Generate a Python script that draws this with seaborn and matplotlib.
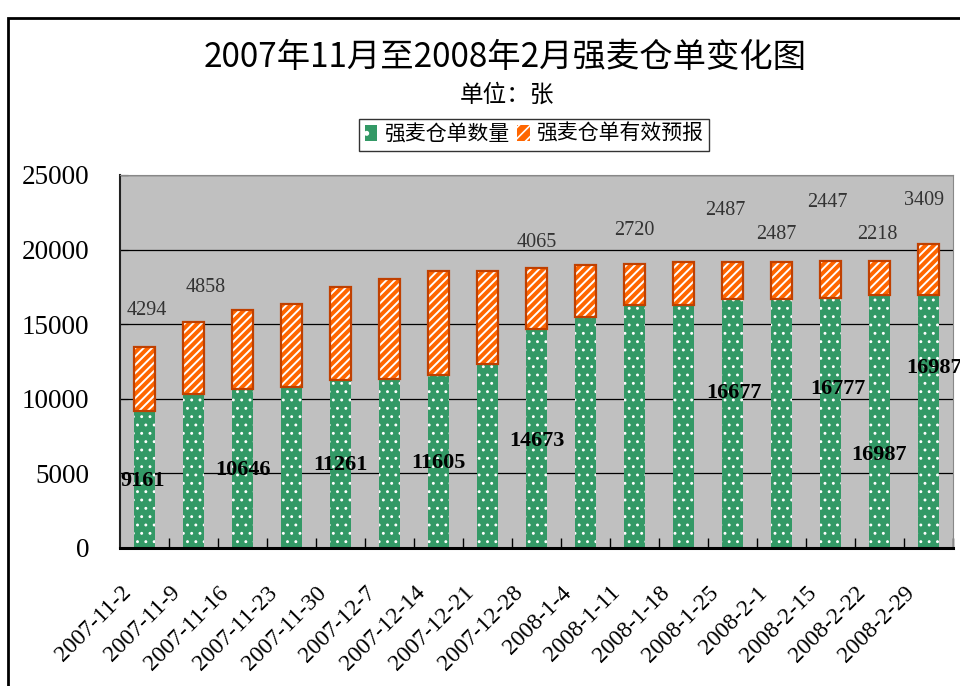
import numpy as np
import pandas as pd
import matplotlib.pyplot as plt
import matplotlib.patches as mpatches
from matplotlib.transforms import ScaledTranslation
import seaborn as sns

# data
dates = ['2007-11-2', '2007-11-9', '2007-11-16', '2007-11-23', '2007-11-30',
         '2007-12-7', '2007-12-14', '2007-12-21', '2007-12-28', '2008-1-4',
         '2008-1-11', '2008-1-18', '2008-1-25', '2008-2-1', '2008-2-15',
         '2008-2-22', '2008-2-29']
warrants = [9161, 10300, 10646, 10800, 11261, 11300, 11605, 12350, 14673,
            15500, 16300, 16300, 16677, 16677, 16777, 16987, 16987]
forecast = [4294, 4858, 5300, 5550, 6250, 6700, 6950, 6200, 4065,
            3500, 2720, 2900, 2487, 2487, 2447, 2218, 3409]

# data labels as Excel placed them (category index, value height)
top_labels = ['4294', '4858', '4065', '2720', '2487', '2487', '2447', '2218', '3409']
top_label_x = [0.05, 1.25, 8.0, 10.0, 11.85, 12.9, 13.93, 14.95, 15.9]
top_label_y = [15950, 17450, 20460, 21270, 22650, 21045, 23140, 21045, 23280]
bar_labels = ['9161', '10646', '11261', '11605', '14673', '16677', '16777', '16987', '16987']
bar_label_x = [-0.03, 2.02, 3.99, 5.99, 8.01, 12.02, 14.15, 15.0, 16.12]
bar_label_y = [4510, 5230, 5560, 5675, 7190, 10370, 10640, 6230, 12040]

title = '2007年11月至2008年2月强麦仓单变化图'
subtitle = '单位：张'
series_names = ['强麦仓单数量', '强麦仓单有效预报']

df = pd.DataFrame({'date': dates, 'warrants': warrants, 'forecast': forecast})
df['total'] = df.warrants + df.forecast

plt.rcParams['font.family'] = ['Liberation Serif', 'Noto Sans CJK SC']

green = '#339966'
orange = '#FF6600'
bar_w = 0.41

fig = plt.figure(figsize=(9.6, 6.86), dpi=100)
ax = fig.add_axes([0.125, 0.2012, 0.8677, 0.5437])
ax.set_facecolor('#C0C0C0')

# stacked bars: full height first, quantity drawn over it
plt.rcParams['hatch.linewidth'] = 1.4
sns.barplot(data=df, x='date', y='total', color=orange, saturation=1,
            width=bar_w, edgecolor='white', hatch='////', linewidth=0, ax=ax)
plt.rcParams['hatch.linewidth'] = 0.9
sns.barplot(data=df, x='date', y='warrants', color=green, saturation=1,
            width=bar_w, edgecolor='white', hatch='..', linewidth=0, ax=ax)
ax.bar(np.arange(len(dates)), df.forecast, bottom=df.warrants, width=bar_w,
       facecolor='none', edgecolor='#C04000', linewidth=1.6, zorder=3)

for s, x, y in zip(top_labels, top_label_x, top_label_y):
    ax.text(x, y, s, ha='center', va='center', fontsize=14.5,
            color='#333333', clip_on=False)
for s, x, y in zip(bar_labels, bar_label_x, bar_label_y):
    ax.text(x, y, s, ha='center', va='center', fontsize=16,
            fontweight='bold', color='black', clip_on=False, zorder=5)

ax.set_xlim(-0.5, len(dates) - 0.5)
ax.set_ylim(0, 25000)
ax.set_yticks(range(0, 25001, 5000))
ax.set_xlabel('')
ax.set_ylabel('')

ax.set_axisbelow(True)
ax.yaxis.grid(True, color='black', linewidth=0.9)
ax.xaxis.grid(False)

ax.spines['top'].set_color('#888888')
ax.spines['right'].set_color('#888888')
ax.spines['left'].set_color('#222222')
ax.spines['left'].set_linewidth(1.5)
ax.spines['bottom'].set_color('black')
ax.spines['bottom'].set_linewidth(2.2)

ax.tick_params(axis='y', direction='in', length=6, labelsize=19.5, pad=22)
ax.set_xticks(np.arange(len(dates)) + 0.5, minor=True)
ax.tick_params(axis='x', which='minor', direction='in', length=7, width=1)
ax.tick_params(axis='x', which='major', length=0, labelsize=17, pad=30)
for lab in ax.get_xticklabels():
    lab.set_rotation(45)
    lab.set_ha('right')
    lab.set_va('center')
    lab.set_rotation_mode('anchor')
    lab.set_transform(lab.get_transform() + ScaledTranslation(-0.17, 0, fig.dpi_scale_trans))

fig.text(0.526, 1 - 58 / 686, title, ha='center', va='center',
         fontsize=24, family=['Noto Sans CJK SC', 'DejaVu Sans'])
fig.text(0.528, 1 - 95 / 686, subtitle, ha='center', va='center', fontsize=17)

plt.rcParams['hatch.linewidth'] = 1.2
handles = [mpatches.Patch(facecolor=green, edgecolor='white', hatch='.', linewidth=0),
           mpatches.Patch(facecolor=orange, edgecolor='white', hatch='///', linewidth=0)]
leg = fig.legend(handles, series_names, loc='center',
                 bbox_to_anchor=(534 / 960, 1 - 135 / 686), ncol=2,
                 fontsize=15, frameon=True, fancybox=False, edgecolor='black',
                 handlelength=0.6, handleheight=0.8, handletextpad=0.3,
                 columnspacing=0.4, borderpad=0.3)
leg.get_frame().set_linewidth(1.0)

# chart border, cut off at right and bottom like the screenshot
fig.add_artist(mpatches.Rectangle((8 / 960, -0.05), 1.2, 1 - 18 / 686 + 0.05,
                                  transform=fig.transFigure, fill=False,
                                  edgecolor='black', linewidth=2))

fig.savefig('out.png', dpi=100)
